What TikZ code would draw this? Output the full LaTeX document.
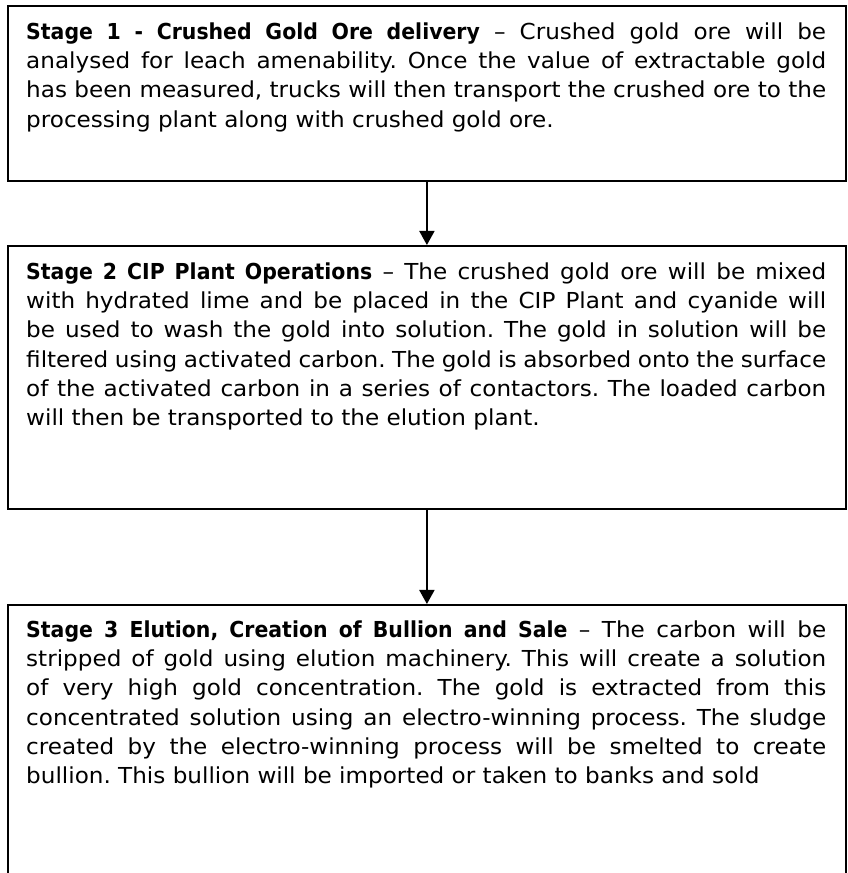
\documentclass[tikz,border=0pt]{standalone}
\usepackage{fontspec}
\setmainfont{DejaVu Sans}[FakeStretch=1.05, BoldFeatures={FakeStretch=0.93}]
\usetikzlibrary{arrows.meta}
\begin{document}
\frenchspacing
\begin{tikzpicture}[x=1pt,y=1pt,
  box/.style={draw, line width=1.8pt, minimum width=838pt, inner sep=0pt, anchor=north west},
  txt/.style={anchor=north west, inner sep=0pt, text width=800pt, align=justify, font=\fontsize{22}{29.3}\selectfont},
  arr/.style={line width=1.8pt, -{Triangle[width=15pt,length=14pt]}}]
\useasboundingbox (0,0) rectangle (847,873);
\node[box, minimum height=175pt] (b1) at (7,868) {};
\node[box, minimum height=263pt] (b2) at (7,628) {};
\node[box, minimum height=290pt] (b3) at (7,269) {};
\node[txt] (t1) at (26,850.7) {\textbf{Stage 1 - Crushed Gold Ore delivery} – Crushed gold ore will be\linebreak
analysed for leach amenability. Once the value of extractable gold\linebreak
has been measured, trucks will then transport the crushed ore to the\linebreak
processing plant along with crushed gold ore.};
\node[txt] (t2) at (26,610.7) {\textbf{Stage 2 CIP Plant Operations} – The crushed gold ore will be mixed\linebreak
with hydrated lime and be placed in the CIP Plant and cyanide will\linebreak
be used to wash the gold into solution. The gold in solution will be\linebreak
filtered using activated carbon. The gold is absorbed onto the surface\linebreak
of the activated carbon in a series of contactors. The loaded carbon\linebreak
will then be transported to the elution plant.};
\node[txt] (t3) at (26,252.7) {\textbf{Stage 3 Elution, Creation of Bullion and Sale} – The carbon will be\linebreak
stripped of gold using elution machinery. This will create a solution\linebreak
of very high gold concentration. The gold is extracted from this\linebreak
concentrated solution using an electro-winning process. The sludge\linebreak
created by the electro-winning process will be smelted to create\linebreak
bullion. This bullion will be imported or taken to banks and sold};
\draw[arr] (b1.south) -- (b2.north);
\draw[arr] (b2.south) -- (b3.north);
\end{tikzpicture}
\end{document}
